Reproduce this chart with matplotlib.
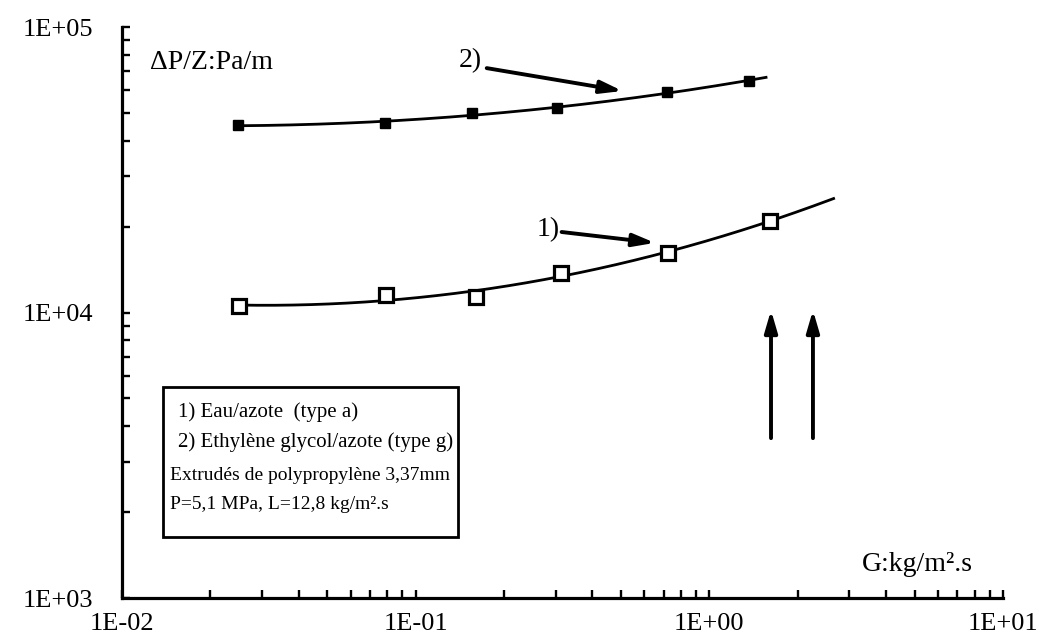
import numpy as np
import matplotlib.pyplot as plt
from matplotlib.patches import Rectangle

# Data (G in kg/m2.s, dP/Z in Pa/m)
g_eau = [0.0251, 0.0793, 0.161, 0.313, 0.724, 1.61]
dp_eau = [10500, 11560, 11290, 13700, 16200, 21000]
fit_end_eau = 2.65

g_glycol = [0.0248, 0.0787, 0.156, 0.304, 0.718, 1.36]
dp_glycol = [45300, 46000, 49900, 52000, 59100, 64700]
fit_end_glycol = 1.56

x_ticks = [1e-2, 1e-1, 1e0, 1e1]
x_labels = ['1E-02', '1E-01', '1E+00', '1E+01']
y_ticks = [1e3, 1e4, 1e5]
y_labels = ['1E+03', '1E+04', '1E+05']

legend_lines = ['1) Eau/azote  (type a)',
                '2) Ethylène glycol/azote (type g)',
                'Extrudés de polypropylène 3,37mm',
                'P=5,1 MPa, L=12,8 kg/m².s']

plt.rcParams['font.family'] = ['Liberation Serif', 'DejaVu Serif']


def fit_curve(x, y, x_end):
    # smooth trend line in log-log space through the measured points
    lx, ly = np.log10(x), np.log10(y)
    coef = np.polyfit(lx, ly, 2)
    xs = np.linspace(lx[0], np.log10(x_end), 200)
    return 10 ** xs, 10 ** np.polyval(coef, xs)


fig = plt.figure(figsize=(10.51, 6.37), dpi=100)
ax = fig.add_axes([0.1161, 0.0612, 0.8382, 0.8964])
ax.set_xscale('log')
ax.set_yscale('log')
ax.set_xlim(1e-2, 1e1)
ax.set_ylim(1e3, 1e5)

xc, yc = fit_curve(g_glycol, dp_glycol, fit_end_glycol)
ax.plot(xc, yc, color='black', lw=2.0, zorder=2)
ax.plot(g_glycol, dp_glycol, 's', color='black', ms=7, zorder=3)

xc, yc = fit_curve(g_eau, dp_eau, fit_end_eau)
ax.plot(xc, yc, color='black', lw=2.0, zorder=2)
ax.plot(g_eau, dp_eau, 's', mfc='white', mec='black', mew=2.3, ms=10, zorder=3)

# axes styling
for side in ['top', 'right']:
    ax.spines[side].set_visible(False)
for side in ['left', 'bottom']:
    ax.spines[side].set_linewidth(2.3)
ax.set_xticks(x_ticks)
ax.set_xticklabels(x_labels)
ax.set_yticks(y_ticks)
ax.set_yticklabels(y_labels)
ax.tick_params(which='both', direction='in', width=1.7, labelsize=19)
ax.tick_params(which='major', length=6)
ax.tick_params(which='minor', length=6)
ax.tick_params(axis='y', pad=21)
ax.tick_params(axis='x', pad=11)

ax.text(0.0318, 0.9387, 'ΔP/Z:Pa/m', transform=ax.transAxes,
        fontsize=20, va='center', ha='left')
ax.text(0.84, 0.058, 'G:kg/m².s', transform=ax.transAxes,
        fontsize=20, va='center', ha='left')

# curve labels with arrows
arrow_kw = dict(arrowstyle='-|>,head_length=1.3,head_width=0.38',
                color='black', lw=2.8, shrinkA=0, shrinkB=0)
ax.annotate('', xy=(0.568, 0.888), xytext=(0.414, 0.928),
            xycoords='axes fraction', arrowprops=arrow_kw)
ax.text(0.395, 0.942, '2)', transform=ax.transAxes, fontsize=20,
        ha='center', va='center')
ax.annotate('', xy=(0.605, 0.622), xytext=(0.499, 0.641),
            xycoords='axes fraction', arrowprops=arrow_kw)
ax.text(0.4835, 0.6445, '1)', transform=ax.transAxes, fontsize=20,
        ha='center', va='center')

# vertical arrows
for xa in [0.7367, 0.7843]:
    ax.annotate('', xy=(xa, 0.504), xytext=(xa, 0.280),
                xycoords='axes fraction', arrowprops=arrow_kw)

# legend box
ax.add_patch(Rectangle((0.0465, 0.107), 0.3345, 0.2625, transform=ax.transAxes,
                       fill=False, lw=2.0, ec='black'))
text_x = [0.0636, 0.0636, 0.0545, 0.0545]
text_y = [0.3257, 0.2732, 0.2154, 0.1629]
text_size = [15, 15, 14, 14]
for tx, ty, fs, line in zip(text_x, text_y, text_size, legend_lines):
    ax.text(tx, ty, line, transform=ax.transAxes, fontsize=fs,
            ha='left', va='center')

fig.savefig('out.png', dpi=100)
